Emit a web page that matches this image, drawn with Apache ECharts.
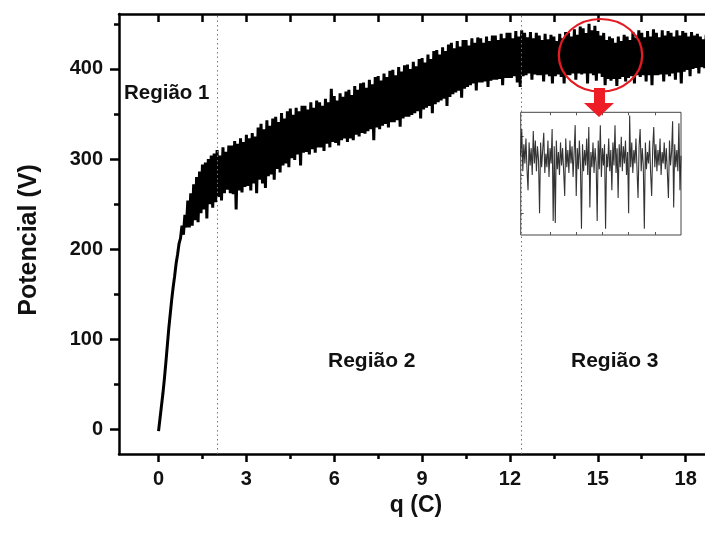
<!DOCTYPE html>
<html>
<head>
<meta charset="utf-8">
<script src="https://cdn.jsdelivr.net/npm/echarts@6/dist/echarts.min.js"></script>
<style>html,body{margin:0;padding:0;background:#fff}#c{width:705px;height:533px}</style>
</head>
<body>
<div id="c"></div>
<script>
// ---- data ----
// main record: potential (V) sampled every dq coulombs starting at q0
const q0 = 0;
const dq = 0.05;
const potencial = [
-2,12,26,40,56,74,93,112,128,144,158,170,184,194,206,212,226,216,238,224,
254,224,262,226,272,232,280,230,286,240,
294,244,296,234,300,250,304,246,306,252,
310,258,304,254,313,262,308,266,315,262,
315,261,320,244,317,265,323,263,319,269,
327,270,323,265,329,273,325,262,335,277,
339,273,333,268,343,281,337,283,345,277,
347,289,341,285,351,293,345,295,353,291,
356,301,349,299,357,305,353,293,359,307,
359,308,355,305,363,311,357,307,365,313,
363,313,359,309,367,317,363,313,378,319,
370,318,365,315,373,321,369,323,375,319,
377,323,371,321,381,327,377,325,384,329,
385,328,379,331,388,333,383,321,391,335,
392,333,387,337,395,339,391,335,398,341,
399,341,393,343,402,336,397,345,404,347,
405,347,400,349,408,351,403,353,411,345,
412,355,407,357,416,359,411,351,420,361,
421,363,416,365,424,367,420,359,427,369,
429,372,423,374,431,376,425,368,432,378,
432,380,426,382,434,384,429,376,435,385,
434,385,429,386,436,380,431,387,437,388,
437,388,432,389,439,382,434,390,440,390,
440,390,434,392,442,385,436,380,443,392,
440,393,435,395,441,388,434,394,440,393,
437,393,432,386,439,394,433,392,438,384,
436,392,431,394,439,391,434,384,441,393,
440,393,436,395,444,388,438,395,447,394,
445,395,440,384,450,395,443,393,448,387,
442,395,437,391,440,382,432,389,436,387,
434,389,429,381,436,389,431,391,438,386,
436,390,432,392,441,384,435,393,443,391,
440,393,435,386,442,393,436,382,444,393,
440,393,435,394,443,386,437,394,442,392,
440,395,436,388,443,396,437,384,442,397,
440,399,436,392,441,400,437,401,439,395,
436,402,433,401,438,399
];
// inset: zoomed stretch of the region-3 signal
const insetQ0 = 13.44;
const insetDq = 0.02;
const insetV = [
410,424,402,416,406,419,403,392,417,405,414,400,423,406,418,402,415,408,380,417,
404,413,422,401,411,404,418,399,414,406,424,376,415,375,418,403,412,400,417,405,
414,402,389,419,404,413,401,418,406,415,399,412,426,389,414,403,418,405,372,416,
402,413,405,419,400,425,383,412,404,417,401,414,406,376,418,403,426,399,414,405,
416,372,411,404,419,402,413,392,417,405,426,401,414,388,416,404,420,402,415,406,
418,400,412,380,431,404,417,401,413,406,419,403,388,415,424,402,414,405,372,417,
403,412,406,418,401,389,414,425,404,416,402,413,405,419,400,412,406,417,403,414,
401,388,418,405,412,428,383,416,404,413,402,427,392,410
];
// axis ticks / labels
const xMajorTicks = [0, 3, 6, 9, 12, 15, 18];
const xMinorTicks = [1.5, 4.5, 7.5, 10.5, 13.5, 16.5];
const xTopTicks = [0, 1.5, 3, 4.5, 6, 7.5, 9, 10.5, 12, 13.5, 15, 16.5, 18];
const yMajorTicks = [0, 100, 200, 300, 400];
const yMinorTicks = [50, 150, 250, 350, 450];
const insetXTicks = [14, 14.5, 15, 15.5, 16];
const insetYTicks = [380, 400, 420];
const regionBounds = [2.0, 12.4];
const regionNames = ['Região 1', 'Região 2', 'Região 3'];

// ---- chart ----
const mainData = potencial.map((v, i) => [+(q0 + i * dq).toFixed(3), v]);
const insetData = insetV.map((v, i) => [+(insetQ0 + i * insetDq).toFixed(3), v]);

const FONT = '"Liberation Sans", Arial, sans-serif';
const AX = { color: '#000', width: 2.5 };
const chart = echarts.init(document.getElementById('c'), null, { renderer: 'canvas' });

chart.setOption({
  animation: false,
  backgroundColor: '#fff',
  grid: [
    { left: 119, top: 14, right: 0, bottom: 79, containLabel: false },
    { left: 520.7, top: 112.3, width: 160.3, height: 122.7, show: true,
      backgroundColor: '#fff', borderColor: '#444', borderWidth: 1 }
  ],
  xAxis: [
    { type: 'value', gridIndex: 0, position: 'bottom', min: -1.35, max: 18.66,
      axisLine: { onZero: false, lineStyle: AX },
      axisTick: { customValues: xMajorTicks, length: 8, lineStyle: AX },
      axisLabel: { customValues: xMajorTicks, fontSize: 20, fontWeight: 'bold', fontFamily: FONT, color: '#111', margin: 15 },
      splitLine: { show: false },
      name: 'q (C)', nameLocation: 'middle', nameGap: 23,
      nameTextStyle: { fontSize: 23, fontWeight: 'bold', fontFamily: FONT, color: '#111', padding: [0, 0, 0, 8] } },
    { type: 'value', gridIndex: 0, position: 'bottom', min: -1.35, max: 18.66,
      axisLine: { show: false, onZero: false },
      axisTick: { customValues: xMinorTicks, length: 5, lineStyle: AX },
      axisLabel: { show: false }, splitLine: { show: false } },
    { type: 'value', gridIndex: 0, position: 'top', min: -1.35, max: 18.66,
      axisLine: { onZero: false, lineStyle: AX },
      axisTick: { customValues: xTopTicks, inside: true, length: 8, lineStyle: AX },
      axisLabel: { show: false }, splitLine: { show: false } },
    { type: 'value', gridIndex: 1, position: 'bottom', min: insetQ0, max: 16.5,
      axisLine: { show: false, onZero: false },
      axisTick: { customValues: insetXTicks, inside: true, length: 3, lineStyle: { color: '#555', width: 1 } },
      axisLabel: { show: false }, splitLine: { show: false } },
    { type: 'value', gridIndex: 1, position: 'top', min: insetQ0, max: 16.5,
      axisLine: { show: false, onZero: false },
      axisTick: { customValues: insetXTicks, inside: true, length: 3, lineStyle: { color: '#555', width: 1 } },
      axisLabel: { show: false }, splitLine: { show: false } }
  ],
  yAxis: [
    { type: 'value', gridIndex: 0, position: 'left', min: -27.4, max: 461,
      axisLine: { show: true, onZero: false, lineStyle: AX },
      axisTick: { show: true, customValues: yMajorTicks, length: 9, lineStyle: AX },
      axisLabel: { customValues: yMajorTicks, fontSize: 20, fontWeight: 'bold', fontFamily: FONT, color: '#111', margin: 16 },
      splitLine: { show: false },
      name: 'Potencial (V)', nameLocation: 'middle', nameGap: 77,
      nameTextStyle: { fontSize: 25, fontWeight: 'bold', fontFamily: FONT, color: '#111', padding: [0, 12, 0, 0] } },
    { type: 'value', gridIndex: 0, position: 'left', min: -27.4, max: 461,
      axisLine: { show: false, onZero: false },
      axisTick: { show: true, customValues: yMinorTicks, length: 5, lineStyle: AX },
      axisLabel: { show: false }, splitLine: { show: false } },
    { type: 'value', gridIndex: 1, position: 'left', min: 368.7, max: 432.7,
      axisLine: { show: false, onZero: false },
      axisTick: { show: true, customValues: insetYTicks, inside: true, length: 3, lineStyle: { color: '#555', width: 1 } },
      axisLabel: { show: false }, splitLine: { show: false } }
  ],
  series: [
    { type: 'line', xAxisIndex: 0, yAxisIndex: 0, data: [], z: 1, silent: true,
      markLine: { symbol: 'none', silent: true, label: { show: false },
        lineStyle: { type: [1.5, 3], color: '#777', width: 1 },
        data: regionBounds.map(b => ({ xAxis: b })) } },
    { type: 'line', xAxisIndex: 0, yAxisIndex: 0, data: mainData, z: 3,
      showSymbol: false, symbol: 'none', clip: true,
      lineStyle: { color: '#000', width: 3, join: 'bevel' } },
    { type: 'line', xAxisIndex: 3, yAxisIndex: 2, data: insetData, z: 5,
      showSymbol: false, symbol: 'none', clip: true,
      lineStyle: { color: '#1e1e1e', width: 1.1, opacity: 0.9 } }
  ],
  graphic: [
    { type: 'text', left: 124, top: 83, z: 10,
      style: { text: regionNames[0], font: 'bold 20.5px ' + FONT, fill: '#111' } },
    { type: 'text', left: 328, top: 351, z: 10,
      style: { text: regionNames[1], font: 'bold 21px ' + FONT, fill: '#111' } },
    { type: 'text', left: 571, top: 351, z: 10,
      style: { text: regionNames[2], font: 'bold 21px ' + FONT, fill: '#111' } },
    { type: 'circle', x: 600.5, y: 55.3, scaleY: 0.87, z: 10,
      shape: { cx: 0, cy: 0, r: 41.7 },
      style: { fill: 'none', stroke: '#e31b23', lineWidth: 2.3 } },
    { type: 'polygon', z: 10,
      shape: { points: [[594, 88], [605, 88], [605, 103], [614, 103], [599, 117], [584, 103], [594, 103]] },
      style: { fill: '#ee1c25' } }
  ]
});
</script>
</body>
</html>
